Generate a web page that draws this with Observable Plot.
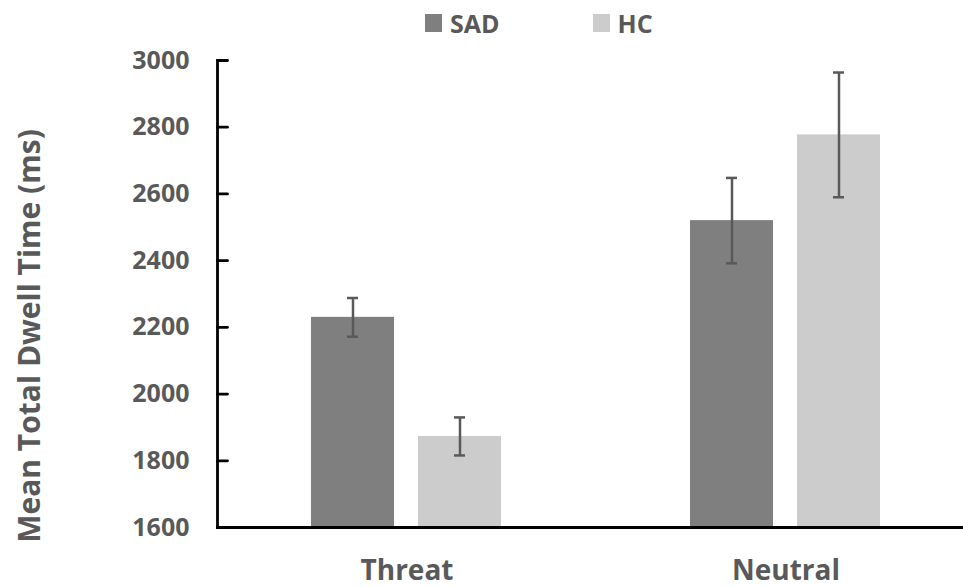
<!DOCTYPE html>
<html><head><meta charset="utf-8">
<script src="https://cdn.jsdelivr.net/npm/d3@7"></script>
<script src="https://cdn.jsdelivr.net/npm/@observablehq/plot@0.6"></script>
<style>
body{margin:0;background:#fff;font-family:"Open Sans",sans-serif;overflow:hidden}
#legend{height:45px;display:flex;align-items:center;padding-left:425px;box-sizing:border-box;font-weight:700;font-size:25px;color:#595959}
.sw{width:17px;height:18px;display:inline-block;margin-right:8px}
.item{display:flex;align-items:center}
</style></head><body><div id="legend"></div><div id="chart"></div>
<script>
const categories = ["Threat", "Neutral"];
const groups = ["SAD", "HC"];
const sadMeans = [2230, 2520];
const sadErrors = [58, 128];
const hcMeans = [1873, 2777];
const hcErrors = [57, 187];
const yDomain = [1600, 3000];
const yTicks = [1600, 1800, 2000, 2200, 2400, 2600, 2800, 3000];
const groupColors = ["#7f7f7f", "#cccccc"];
const yTitle = "Mean Total Dwell Time (ms)";

const rows = [];
categories.forEach((c, i) => {
  rows.push({category: c, group: "SAD", mean: sadMeans[i], err: sadErrors[i]});
  rows.push({category: c, group: "HC", mean: hcMeans[i], err: hcErrors[i]});
});

const legend = document.getElementById("legend");
groups.forEach((g, i) => {
  const it = document.createElement("div");
  it.className = "item";
  if (i > 0) it.style.marginLeft = "93px";
  it.innerHTML = `<span class="sw" style="background:${groupColors[i]}"></span><span>${g}</span>`;
  legend.appendChild(it);
});

const tickShape = {draw(ctx, l) { ctx.moveTo(0, 0); ctx.lineTo(0, -l); }};

const chart = Plot.plot({
  width: 963, height: 542,
  marginTop: 15, marginBottom: 60, marginLeft: 216, marginRight: 0,
  style: {fontFamily: "'Open Sans', sans-serif", background: "#fff", overflow: "visible"},
  fx: {domain: categories, range: [216, 975], padding: 0, label: null},
  x: {domain: groups, paddingInner: 0.222, paddingOuter: 0.868, axis: null},
  y: {domain: yDomain},
  color: {domain: groups, range: groupColors},
  marks: [
    Plot.barY(rows, {fx: "category", x: "group", y1: () => yDomain[0], y2: "mean", fill: "group"}),
    Plot.ruleX(rows, {fx: "category", x: "group", y1: d => d.mean - d.err, y2: d => d.mean + d.err, stroke: "#595959", strokeWidth: 2.5}),
    Plot.tickY(rows, {fx: "category", x: "group", y: d => d.mean - d.err, stroke: "#595959", strokeWidth: 2.5, insetLeft: 36, insetRight: 36}),
    Plot.tickY(rows, {fx: "category", x: "group", y: d => d.mean + d.err, stroke: "#595959", strokeWidth: 2.5, insetLeft: 36, insetRight: 36}),
    Plot.frame({anchor: "left", facetAnchor: "left", stroke: "#000", strokeWidth: 2.8}),
    Plot.frame({anchor: "bottom", stroke: "#000", strokeWidth: 2.8}),
    Plot.vector(yTicks, {y: d => d, frameAnchor: "left", facetAnchor: "left", rotate: 90, length: 10, anchor: "start", shape: tickShape, stroke: "#000", strokeWidth: 2.8}),
    Plot.axisY({ticks: yTicks, tickFormat: d3.format("d"), tickSize: 0, tickPadding: 28, fontSize: 25, fontWeight: 700, color: "#595959", label: null}),
    Plot.text([yTitle], {frameAnchor: "left", facetAnchor: "left", textAnchor: "middle", rotate: -90, dx: -187, dy: 42, fontSize: 30, fontWeight: 700, fill: "#595959"}),
    Plot.axisFx({anchor: "bottom", tickSize: 0, tickPadding: 33, label: null, fontSize: 28, fontWeight: 700, color: "#595959"})
  ]
});
document.getElementById("chart").appendChild(chart);
</script>
</body></html>
